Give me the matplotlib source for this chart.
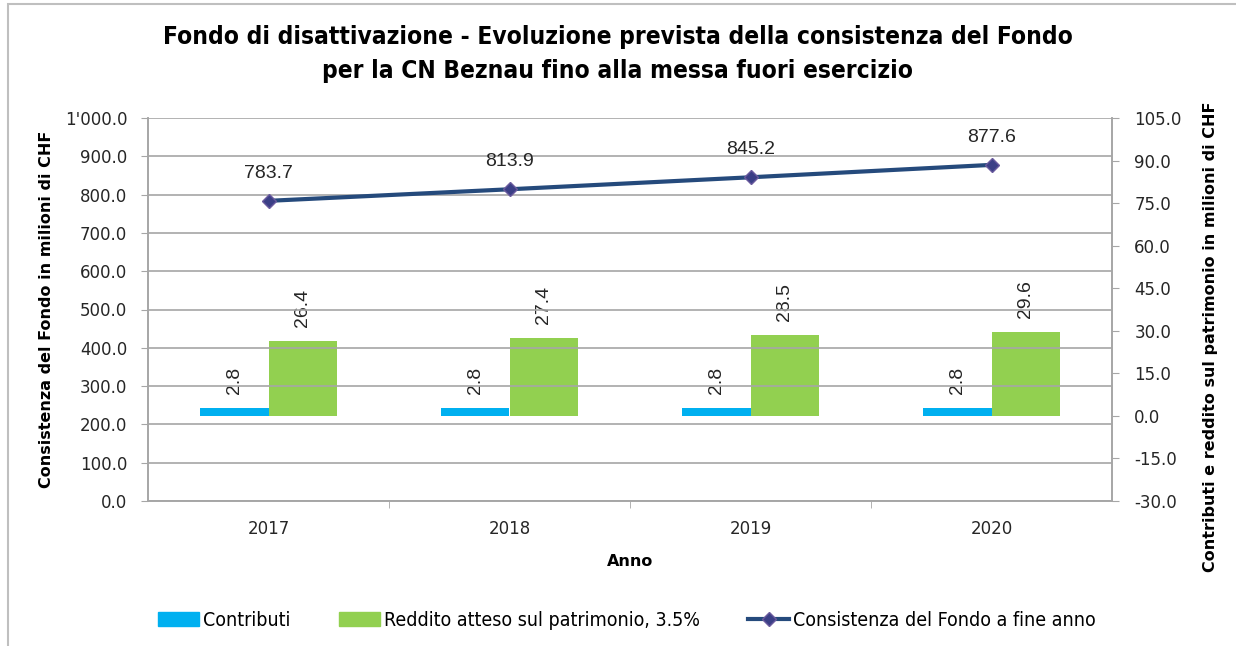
import matplotlib.pyplot as plt
import numpy as np
from matplotlib.patches import Rectangle
from matplotlib.lines import Line2D

anni = ['2017', '2018', '2019', '2020']
contributi = [2.8, 2.8, 2.8, 2.8]
reddito = [26.4, 27.4, 28.5, 29.6]
consistenza = [783.7, 813.9, 845.2, 877.6]

titolo = ('Fondo di disattivazione - Evoluzione prevista della consistenza del Fondo\n'
          'per la CN Beznau fino alla messa fuori esercizio')

c_contr = '#00B0F0'
c_redd = '#92D050'
c_line = '#254A7C'
c_grid = '#A6A6A6'
c_txt = '#262626'

fig = plt.figure(figsize=(12.36, 6.46), dpi=100)
ax = fig.add_axes([148 / 1236, 1 - 501 / 646, 964 / 1236, 383 / 646])
ax2 = ax.twinx()

x = np.arange(len(anni))
w = 0.286

# barre sull'asse secondario
ax2.bar(x - w / 2, contributi, w, color=c_contr, zorder=2)
ax2.bar(x + w / 2, reddito, w, color=c_redd, zorder=2)
for xi, v in zip(x - w / 2, contributi):
    ax2.text(xi, v + 5, f'{v:.1f}', rotation=90, ha='center', va='bottom',
             fontsize=14, family='Liberation Sans', color=c_txt)
for xi, v in zip(x + w / 2, reddito):
    ax2.text(xi, v + 5, f'{v:.1f}', rotation=90, ha='center', va='bottom',
             fontsize=14, family='Liberation Sans', color=c_txt)

# linea sull'asse principale
ax.set_zorder(ax2.get_zorder() + 1)
ax.patch.set_visible(False)
ax.plot(x, consistenza, color=c_line, lw=3, marker='D', ms=7,
        mfc='#3B3F86', mec='#6A5A9E', mew=1, zorder=3)
for xi, v in zip(x, consistenza):
    ax.text(xi, v + 50, f'{v:.1f}', ha='center', va='bottom',
            fontsize=14, family='Liberation Sans', color=c_txt)

ax.set_xlim(-0.5, 3.5)
ax.set_ylim(0, 1000)
ax.set_yticks(np.arange(0, 1001, 100))
ax.set_yticklabels(["1'000.0" if t == 1000 else f'{t:.1f}' for t in range(0, 1001, 100)])
ax2.set_ylim(-30, 105)
ax2.set_yticks(np.arange(-30, 106, 15))
ax2.set_yticklabels([f'{t:.1f}' for t in range(-30, 106, 15)])

ax.set_xticks(x)
ax.set_xticklabels(anni)
ax.set_xticks([0.5, 1.5, 2.5], minor=True)
ax.tick_params(axis='x', which='major', length=0, pad=14, labelsize=12, labelcolor=c_txt)
ax.tick_params(axis='x', which='minor', length=5, color=c_grid, direction='out')
ax.tick_params(axis='y', length=5, color=c_grid, labelsize=12, labelcolor=c_txt, pad=10)
ax2.tick_params(axis='y', length=5, color=c_grid, labelsize=12, labelcolor=c_txt, pad=11)

ax.grid(axis='y', color=c_grid, lw=1.2)
ax.set_axisbelow(True)
for a in (ax, ax2):
    for s in a.spines.values():
        s.set_color(c_grid)
        s.set_linewidth(1.2)
    a.spines['top'].set_visible(False)

ax.set_ylabel('Consistenza del Fondo in milioni di CHF', fontsize=11.5, fontweight='bold')
ax.yaxis.set_label_coords(-94 / 964, 0.5)
ax2.set_ylabel('Contributi e reddito sul patrimonio in milioni di CHF', fontsize=11.5,
               fontweight='bold')
ax2.yaxis.set_label_coords(1055 / 964, 0.428)
ax.set_xlabel('Anno', fontsize=11.5, fontweight='bold', labelpad=11)

fig.text(0.5, 1 - 54 / 646, titolo, ha='center', va='center', fontsize=17.6,
         fontweight='bold', family='DejaVu Sans', fontstretch='condensed',
         linespacing=1.55)

handles = [Rectangle((0, 0), 1, 1, color=c_contr),
           Rectangle((0, 0), 1, 1, color=c_redd),
           Line2D([], [], color=c_line, lw=3, marker='D', ms=7, mfc='#3B3F86', mec='#6A5A9E')]
labels = ['Contributi', 'Reddito atteso sul patrimonio, 3.5%', 'Consistenza del Fondo a fine anno']
fig.legend(handles, labels, loc='center', bbox_to_anchor=(627 / 1236, 1 - 620 / 646), ncol=3,
           frameon=False, handlelength=2.1, handleheight=0.7, handletextpad=0.2,
           columnspacing=2.5, prop={'size': 14, 'stretch': 'condensed'})

fig.patches.append(Rectangle((8 / 1236, -0.1), 1.2, 1 - 4 / 646 + 0.1, transform=fig.transFigure,
                             fill=False, ec='#BFBFBF', lw=1.5, zorder=0))

fig.savefig('out.png', dpi=100)
